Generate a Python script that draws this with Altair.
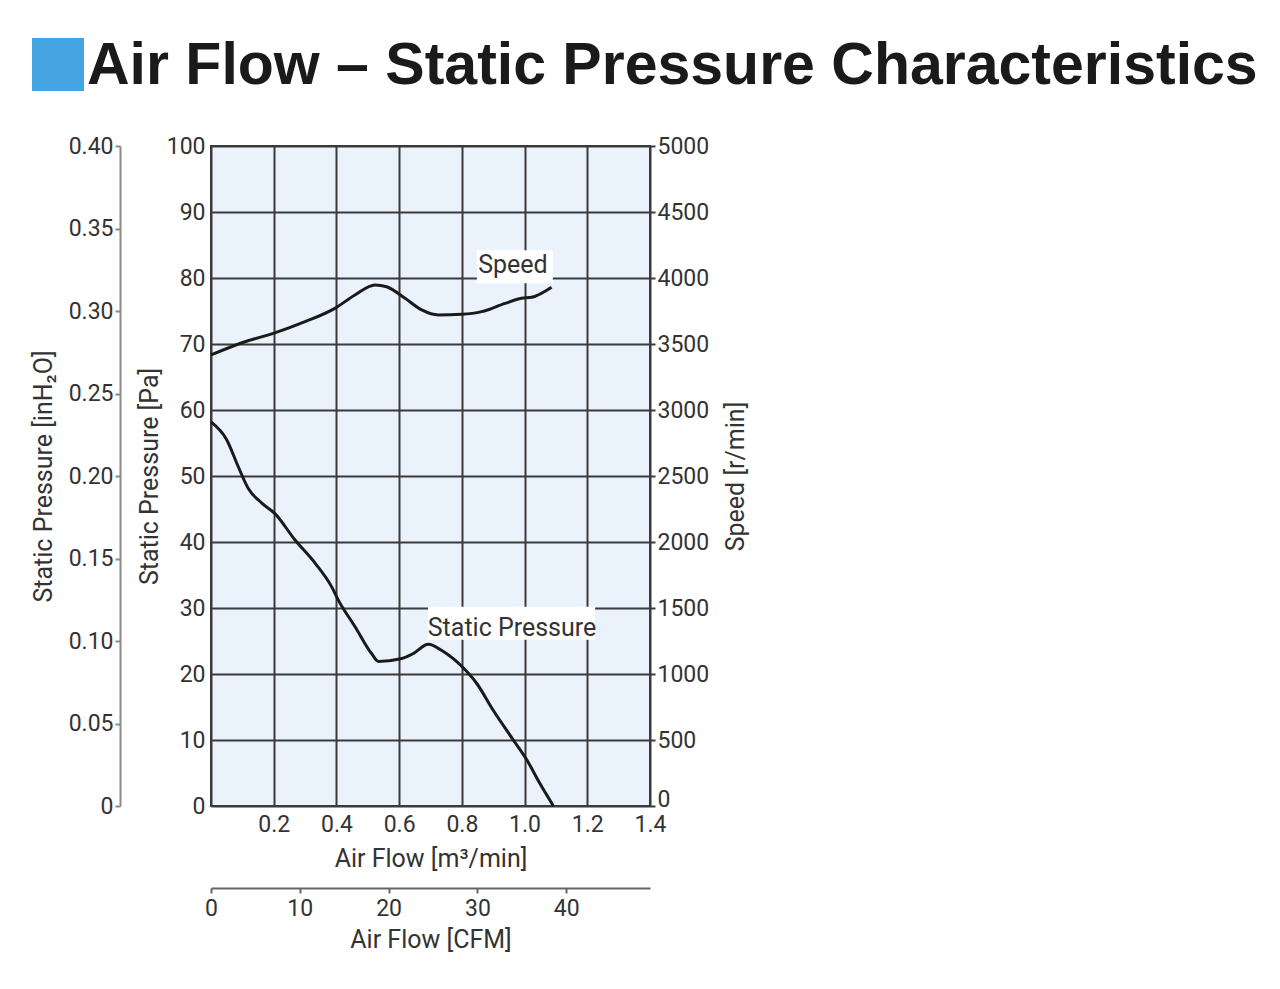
import altair as alt
import pandas as pd

# ---- data ----
flow_p = [0.00, 0.050, 0.087, 0.119, 0.162, 0.204, 0.268, 0.332, 0.385, 0.406, 0.459, 0.512, 0.534, 0.605, 0.645, 0.693, 0.741, 0.805, 0.847, 0.900, 0.964, 1.007, 1.049, 1.092]
pressure = [58.2, 55.5, 51.4, 48.1, 45.9, 44.3, 40.3, 36.8, 33.2, 31.2, 27.2, 23.1, 21.9, 22.3, 23.1, 24.5, 23.4, 20.9, 18.6, 14.5, 10.0, 7.0, 3.4, 0.0]

flow_s = [0.00, 0.108, 0.199, 0.300, 0.395, 0.459, 0.523, 0.560, 0.619, 0.672, 0.725, 0.799, 0.863, 0.938, 0.990, 1.023, 1.086]
speed = [3417, 3517, 3581, 3669, 3770, 3871, 3947, 3934, 3846, 3758, 3720, 3725, 3745, 3808, 3846, 3854, 3930]

flow_ticks = [0.0, 0.2, 0.4, 0.6, 0.8, 1.0, 1.2, 1.4]
pa_ticks = [0, 10, 20, 30, 40, 50, 60, 70, 80, 90, 100]
speed_ticks = [0, 500, 1000, 1500, 2000, 2500, 3000, 3500, 4000, 4500, 5000]
inh2o_ticks = [0, 0.05, 0.10, 0.15, 0.20, 0.25, 0.30, 0.35, 0.40]
cfm_ticks = [0, 10, 20, 30, 40]

label_text = ["Speed", "Static Pressure"]
label_flow = [0.963, 0.96]
label_pa = [82.0, 27.0]
box_flow1 = [0.848, 0.692]
box_flow2 = [1.09, 1.225]
box_pa1 = [79.2, 25.2]
box_pa2 = [84.2, 30.2]

heading = "Air Flow – Static Pressure Characteristics"

PA_PER_INH2O = 249.089
CFM_PER_M3MIN = 35.3147

dfp = pd.DataFrame({"flow": flow_p, "pa": pressure})
dfs = pd.DataFrame({"flow": flow_s, "rpm": speed})
dfl = pd.DataFrame({"text": label_text, "flow": label_flow, "pa": label_pa})
dfb = pd.DataFrame({"f1": box_flow1, "f2": box_flow2, "p1": box_pa1, "p2": box_pa2})
dft = pd.DataFrame({"t": [heading]})

FONT = "Roboto"
TXT = "#333333"
GRID = "#3a3a3a"
LINE = "#1a1a1a"

def xflow():
    return alt.Scale(domain=[0, 1.4], nice=False, zero=False)

def ypa():
    return alt.Scale(domain=[0, 100], nice=False, zero=False)

lab = dict(labelFont=FONT, labelFontSize=23, labelColor=TXT, labelFlush=False, labelOverlap=False)
tit = dict(titleFont=FONT, titleFontSize=25, titleFontWeight="normal", titleColor=TXT)

boxes = alt.Chart(dfb).mark_rect(color="white").encode(
    x=alt.X("f1:Q", scale=xflow(), axis=None),
    x2="f2:Q",
    y=alt.Y("p1:Q", scale=ypa(), axis=None),
    y2="p2:Q",
)

press = alt.Chart(dfp).mark_line(color=LINE, strokeWidth=3, interpolate="monotone").encode(
    x=alt.X("flow:Q", scale=xflow(),
            axis=alt.Axis(values=flow_ticks, grid=True, gridColor=GRID, gridWidth=2, ticks=False,
                          domain=False, labelPadding=7,
                          labelExpr="datum.value == 0 ? '' : format(datum.value, '.1f')",
                          title="Air Flow [m³/min]", titlePadding=10, **lab, **tit)),
    y=alt.Y("pa:Q", scale=ypa(),
            axis=alt.Axis(values=pa_ticks, grid=True, gridColor=GRID, gridWidth=2, ticks=False,
                          domain=False, labelPadding=6, orient="left",
                          title="Static Pressure [Pa]", titlePadding=4, **lab, **tit)),
)

spd = alt.Chart(dfs).mark_line(color=LINE, strokeWidth=3, interpolate="monotone").encode(
    x=alt.X("flow:Q", scale=xflow(), axis=None),
    y=alt.Y("rpm:Q", scale=alt.Scale(domain=[0, 5000], nice=False),
            axis=alt.Axis(values=speed_ticks, grid=False, orient="right", ticks=True, tickSize=5,
                          tickColor=GRID, tickWidth=2, domain=False, labelPadding=2, labelAlign="left",
                          labelBaseline={"condition": {"test": "datum.value == 0", "value": "alphabetic"},
                                         "value": "middle"},
                          format="d", title="Speed [r/min]", titleAngle=270, titleX=85, titleY=330,
                          titleAlign="center", titleBaseline="middle", **lab, **tit)),
)

texts = alt.Chart(dfl).mark_text(font=FONT, fontSize=25, color=TXT).encode(
    x=alt.X("flow:Q", scale=xflow(), axis=None),
    y=alt.Y("pa:Q", scale=ypa(), axis=None),
    text="text:N",
)

inh = alt.Chart(dfp).transform_calculate(inh="datum.pa / %f" % PA_PER_INH2O).mark_line(opacity=0).encode(
    x=alt.X("flow:Q", scale=xflow(), axis=None),
    y=alt.Y("inh:Q", scale=alt.Scale(domain=[0, 0.40], nice=False, zero=False),
            axis=alt.Axis(values=inh2o_ticks, grid=False, orient="left", offset=91,
                          domain=True, domainColor="#8a8a8a", domainWidth=2,
                          ticks=True, tickColor="#8a8a8a", tickWidth=2, tickSize=5, labelPadding=2,
                          labelExpr="datum.value == 0 ? '0' : format(datum.value, '.2f')",
                          title="Static Pressure [inH₂O]", titlePadding=12, **lab, **tit)),
)

cfm = alt.Chart(dfp).transform_calculate(cfm="datum.flow * %f" % CFM_PER_M3MIN).mark_line(opacity=0).encode(
    x=alt.X("cfm:Q", scale=alt.Scale(domain=[0, 1.4 * CFM_PER_M3MIN], nice=False, zero=False),
            axis=alt.Axis(values=cfm_ticks, grid=False, orient="bottom", offset=82,
                          domain=True, domainColor="#666666", domainWidth=2,
                          ticks=True, tickColor="#666666", tickWidth=2, tickSize=5, labelPadding=4,
                          format="d", title="Air Flow [CFM]", titlePadding=7, **lab, **tit)),
    y=alt.Y("pa:Q", scale=ypa(), axis=None),
)

square = alt.Chart(pd.DataFrame({"k": [0]})).mark_rect(color="#44a5e2").encode(
    x=alt.value(-179), x2=alt.value(-127), y=alt.value(-108), y2=alt.value(-55)
)

title = alt.Chart(dft).mark_text(font="Liberation Sans", fontSize=59, fontWeight="bold", color="#1a1a1a",
                                 align="left", baseline="alphabetic").encode(
    x=alt.value(-124), y=alt.value(-62), text="t:N"
)

chart = alt.layer(boxes, press, spd, texts, inh, cfm, square, title).resolve_scale(
    x="independent", y="independent"
).properties(
    width=439,
    height=660,
    autosize=alt.AutoSizeParams(type="none"),
    padding={"left": 203, "top": 138, "right": 610, "bottom": 150},
).configure_view(fill="#eaf2fb", stroke=GRID, strokeWidth=2)

chart.save("out.html", embed_options={"renderer": "svg", "actions": False})
